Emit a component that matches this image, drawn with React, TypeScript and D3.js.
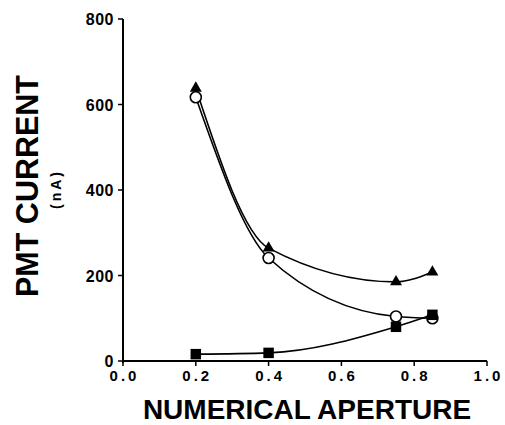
import * as d3 from "d3";

const apertures = [0.2, 0.4, 0.75, 0.85];
const triangleValues = [638, 264, 185, 208];
const circleValues = [617, 241, 104, 100];
const squareValues = [16, 19, 80, 108];
const xTicks = [0, 0.2, 0.4, 0.6, 0.8, 1.0];
const yTicks = [0, 200, 400, 600, 800];

const width = 505;
const height = 425;
const margin = { top: 19, right: 18, bottom: 64, left: 123 };

export default function App() {
  const x = d3.scaleLinear().domain([0, 1]).range([margin.left, width - margin.right]);
  const y = d3.scaleLinear().domain([0, 800]).range([height - margin.bottom, margin.top]);
  const bottom = height - margin.bottom;

  const line = d3
    .line<number>()
    .x((_, i) => x(apertures[i]))
    .y((d) => y(d))
    .curve(d3.curveMonotoneX);

  const font = "Liberation Sans, Arial, sans-serif";
  const tri = d3.symbol(d3.symbolTriangle, 62)();
  const sq = d3.symbol(d3.symbolSquare, 110)();

  return (
    <svg width={width} height={height} style={{ position: "absolute", left: 0, top: 0 }}>
      <rect width={width} height={height} fill="#fff" />
      {/* axes */}
      <line x1={x(0)} x2={x(1)} y1={bottom} y2={bottom} stroke="#000" strokeWidth={2} />
      <line x1={x(0)} x2={x(0)} y1={bottom + 2} y2={y(800)} stroke="#000" strokeWidth={2} />
      {yTicks.map((t) => (
        <g key={t}>
          <line x1={x(0) - 5} x2={x(0)} y1={y(t)} y2={y(t)} stroke="#000" strokeWidth={1.5} />
          <text
            x={x(0) - 9}
            y={y(t) + 6}
            textAnchor="end"
            fontFamily={font}
            fontWeight="bold"
            fontSize={16}
            letterSpacing={0.5}
          >
            {t}
          </text>
        </g>
      ))}
      {xTicks.map((t) => (
        <g key={t}>
          <line x1={x(t)} x2={x(t)} y1={bottom} y2={bottom + 5} stroke="#000" strokeWidth={1.5} />
          <text
            x={x(t) + 1.5}
            y={bottom + 20}
            textAnchor="middle"
            fontFamily={font}
            fontWeight="bold"
            fontSize={15}
            letterSpacing={3}
          >
            {t.toFixed(1)}
          </text>
        </g>
      ))}
      <text x={307} y={419} textAnchor="middle" fontFamily={font} fontWeight="bold" fontSize={28}>
        NUMERICAL APERTURE
      </text>
      <text
        transform="translate(38,186) rotate(-90)"
        textAnchor="middle"
        fontFamily={font}
        fontWeight="bold"
        fontSize={30.5}
      >
        PMT CURRENT
      </text>
      <text
        transform="translate(61,189) rotate(-90)"
        textAnchor="middle"
        fontFamily={font}
        fontWeight="bold"
        fontSize={14}
        letterSpacing={3}
      >
        (nA)
      </text>
      {/* series lines */}
      {[triangleValues, circleValues, squareValues].map((s, i) => (
        <path key={i} d={line(s) ?? ""} fill="none" stroke="#000" strokeWidth={1.6} />
      ))}
      {/* markers */}
      {triangleValues.map((v, i) => (
        <path key={"t" + i} d={tri ?? ""} transform={`translate(${x(apertures[i])},${y(v)})`} fill="#000" />
      ))}
      {circleValues.map((v, i) => (
        <circle key={"c" + i} cx={x(apertures[i])} cy={y(v)} r={5.5} fill="#fff" stroke="#000" strokeWidth={1.6} />
      ))}
      {squareValues.map((v, i) => (
        <path key={"s" + i} d={sq ?? ""} transform={`translate(${x(apertures[i])},${y(v)})`} fill="#000" />
      ))}
    </svg>
  );
}
